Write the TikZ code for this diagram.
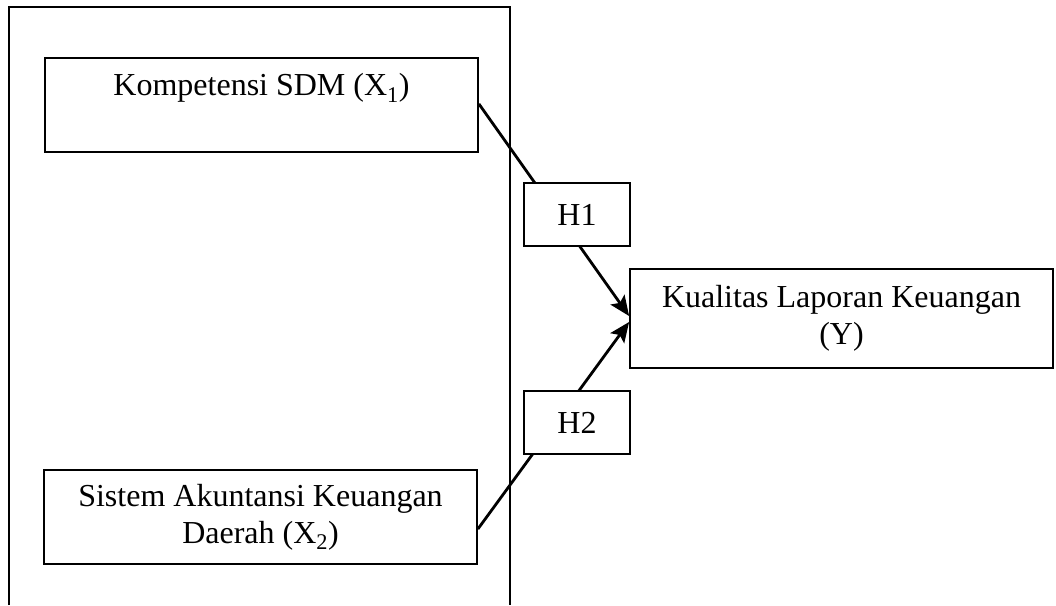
\documentclass[tikz,border=0pt]{standalone}
\usepackage{fontspec}
\setmainfont{Liberation Serif}
\usetikzlibrary{arrows.meta}

\tikzset{
  box/.style={draw, line width=1.8pt, fill=white, inner sep=0pt, align=center,
    font=\fontsize{32}{37}\selectfont},
  link/.style={line width=2.8pt, -{Stealth[length=20pt,width=17pt,inset=4pt]}},
}

\begin{document}
\begin{tikzpicture}[x=1pt,y=-1pt]
		\useasboundingbox (0,0) rectangle (1056,605);
		\draw[line width=1.8pt] (9,605) -- (9,7) -- (510,7) -- (510,605);
		\node[box, anchor=north, minimum width=433pt, text height=38pt, text depth=56pt] (x1) at (261.5,57) {Kompetensi SDM (X\textsubscript{1})};
		\node[box, minimum width=433pt, minimum height=94pt] (x2) at (260.5,517) {Sistem Akuntansi Keuangan\\Daerah (X\textsubscript{2})};
		\node[box, minimum width=423pt, minimum height=99pt] (y) at (841.5,318.5) {Kualitas Laporan Keuangan\\(Y)};
		\draw[link] ([yshift=1pt]x1.east) -- ([yshift=2.5pt]y.west);
		\draw[link] ([yshift=-12pt]x2.east) -- ([yshift=-3.5pt]y.west);
		
		\node[box, minimum width=106pt, minimum height=63pt] (h1) at (577,214.5) {H1};
		\node[box, minimum width=106pt, minimum height=63pt] (h2) at (577,422.5) {H2};
	\end{tikzpicture}
\end{document}
